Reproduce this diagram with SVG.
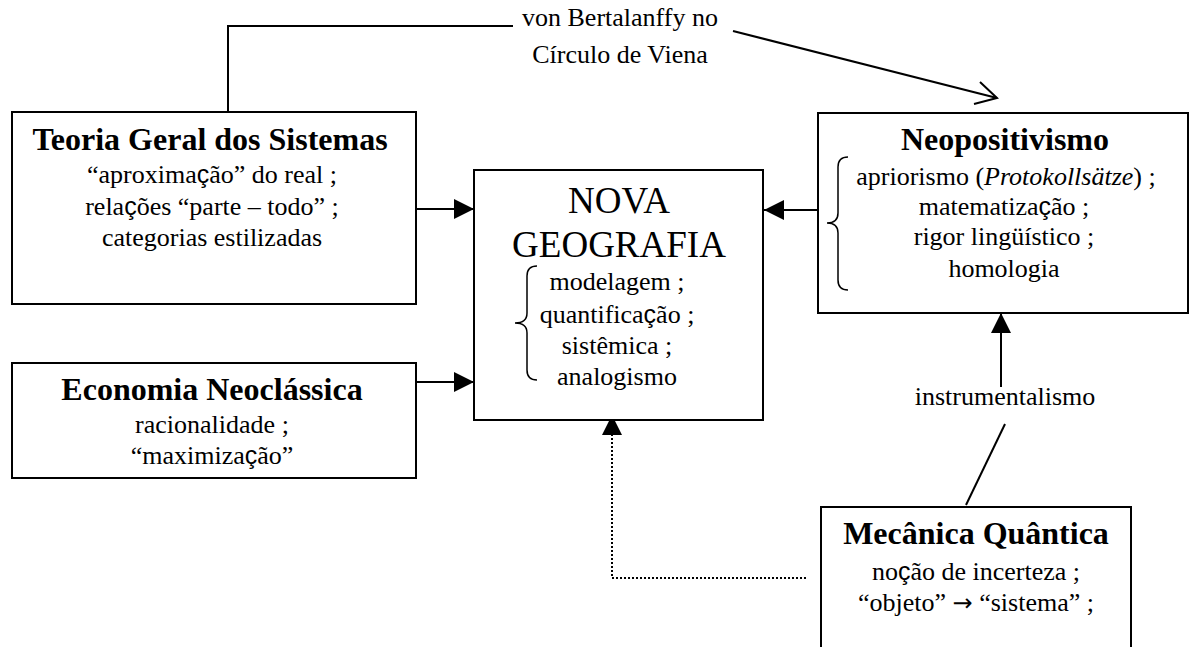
<svg xmlns="http://www.w3.org/2000/svg" width="1190" height="647" viewBox="0 0 1190 647">
<style>
.box{fill:#fff;stroke:#000;stroke-width:2}
.t{font-family:"Liberation Serif","Times New Roman",serif;font-size:26px;text-anchor:middle;fill:#000}
.h{font-family:"Liberation Serif","Times New Roman",serif;font-size:32px;font-weight:bold;text-anchor:middle;fill:#000}
.big{font-family:"Liberation Serif","Times New Roman",serif;font-size:37px;text-anchor:middle;fill:#000}
.c{font-family:"Liberation Sans",Arial,sans-serif;font-size:25px}
.ar{font-family:"DejaVu Sans",sans-serif;font-size:24px}
.ln{fill:none;stroke:#000;stroke-width:2}
.br{fill:none;stroke:#000;stroke-width:1.5}
</style>
<defs>
<marker id="tri" viewBox="0 0 20 20" refX="20" refY="10" markerWidth="20" markerHeight="20" markerUnits="userSpaceOnUse" orient="auto">
<path d="M0,0 L20,10 L0,20 z" fill="#000"/>
</marker>
</defs>
<rect width="1190" height="647" fill="#fff"/>

<g id="connectors">
<line class="ln" x1="416" y1="209" x2="474" y2="209" marker-end="url(#tri)"/>
<line class="ln" x1="416" y1="382" x2="474" y2="382" marker-end="url(#tri)"/>
<line class="ln" x1="818" y1="210" x2="764" y2="210" marker-end="url(#tri)"/>
<line class="ln" x1="1001" y1="387" x2="1001" y2="313" marker-end="url(#tri)"/>
<line class="ln" x1="966" y1="505" x2="1005" y2="424"/>
<polyline fill="none" stroke="#000" stroke-width="2" stroke-dasharray="2,2" points="806,578 612,578 612,415" marker-end="url(#tri)"/>
<polyline class="ln" points="228,112 228,26 513,26"/>
<line class="ln" x1="733" y1="31" x2="997" y2="98"/>
<polyline class="ln" points="980,82 997,98 974,104"/>
<text class="t" x="620" y="26">von Bertalanffy no</text>
<text class="t" x="620" y="63">Círculo de Viena</text>
<text class="t" x="1005" y="405">instrumentalismo</text>
</g>

<g id="tgs">
<rect class="box" x="12" y="112" width="404" height="192"/>
<text class="h" x="210" y="150">Teoria Geral dos Sistemas</text>
<text class="t" x="212" y="183">“aproxima<tspan class="c">ç</tspan>ão” do real ;</text>
<text class="t" x="212" y="215">rela<tspan class="c">ç</tspan>ões “parte – todo” ;</text>
<text class="t" x="212" y="246">categorias estilizadas</text>
</g>

<g id="economia">
<rect class="box" x="12" y="363" width="404" height="115"/>
<text class="h" x="212" y="400">Economia Neoclássica</text>
<text class="t" x="212" y="433">racionalidade ;</text>
<text class="t" x="212" y="464">“maximiza<tspan class="c">ç</tspan>ão”</text>
</g>

<g id="nova">
<rect class="box" x="474" y="170" width="289" height="250"/>
<text class="big" x="619" y="213">NOVA</text>
<text class="big" x="619" y="257">GEOGRAFIA</text>
<path class="br" d="M537,266 Q527,266 527,276 L527,313 Q527,323 515,323 Q527,323 527,333 L527,370 Q527,380 537,380"/>
<text class="t" x="617" y="290">modelagem ;</text>
<text class="t" x="617" y="323">quantifica<tspan class="c">ç</tspan>ão ;</text>
<text class="t" x="617" y="354">sistêmica ;</text>
<text class="t" x="617" y="385">analogismo</text>
</g>

<g id="neopositivismo">
<rect class="box" x="818" y="113" width="370" height="200"/>
<text class="h" x="1005" y="150">Neopositivismo</text>
<path class="br" d="M848,157 Q838,157 838,167 L838,213 Q838,223 827,223 Q838,223 838,233 L838,280 Q838,290 848,290"/>
<text class="t" x="1006" y="185">apriorismo (<tspan font-style="italic">Protokollsätze</tspan>) ;</text>
<text class="t" x="1004" y="215">matematiza<tspan class="c">ç</tspan>ão ;</text>
<text class="t" x="1004" y="245">rigor lingüístico ;</text>
<text class="t" x="1004" y="277">homologia</text>
</g>

<g id="mecanica">
<rect class="box" x="821" y="507" width="310" height="160"/>
<text class="h" x="976" y="544">Mecânica Quântica</text>
<text class="t" x="976" y="580">no<tspan class="c">ç</tspan>ão de incerteza ;</text>
<text class="t" x="976" y="611">“objeto” <tspan class="ar">→</tspan> “sistema” ;</text>
</g>
</svg>
